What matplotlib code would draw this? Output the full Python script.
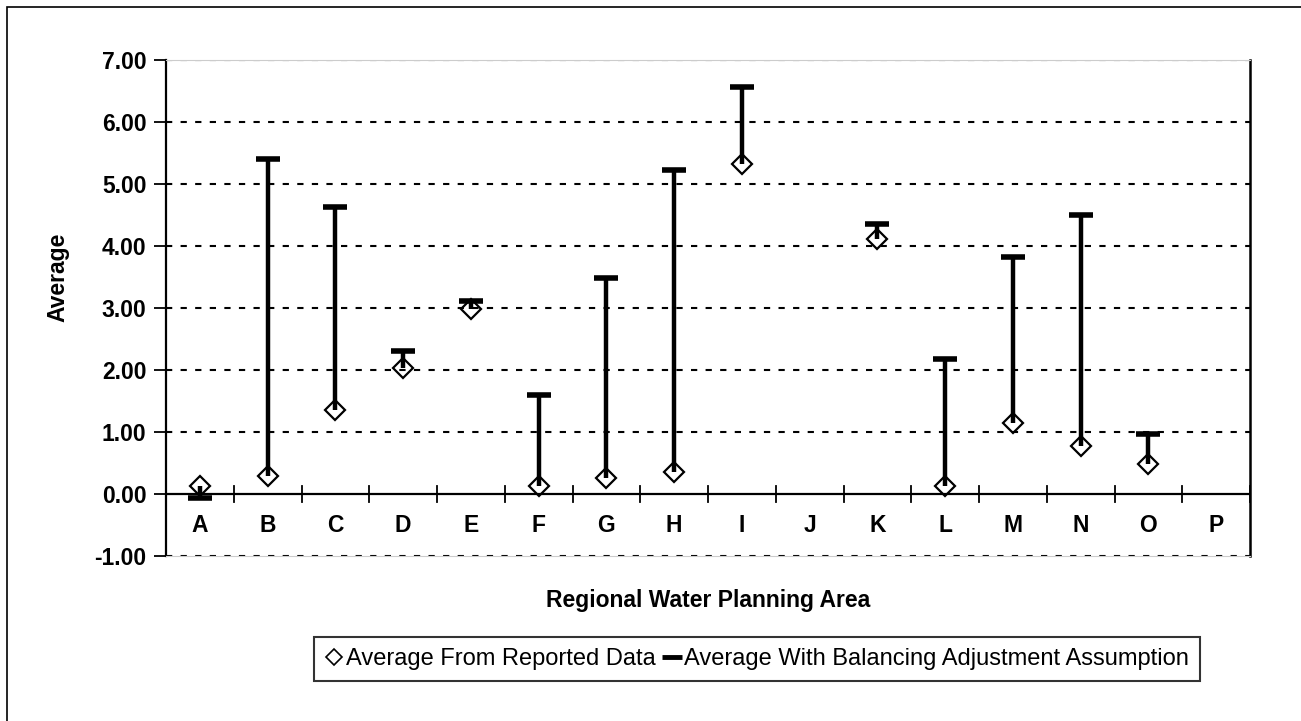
import matplotlib.pyplot as plt
from matplotlib.lines import Line2D
from matplotlib.patches import Rectangle

plt.rcParams['font.family'] = ['Liberation Sans', 'DejaVu Sans']

areas = ["A", "B", "C", "D", "E", "F", "G", "H", "I", "J", "K", "L", "M", "N", "O", "P"]
# None where no value shown (J, P)
reportado = [0.13, 0.29, 1.35, 2.03, 2.98, 0.13, 0.26, 0.35, 5.32, None, 4.11, 0.13, 1.14, 0.77, 0.48, None]
ajustado = [-0.06, 5.40, 4.63, 2.30, 3.12, 1.60, 3.48, 5.23, 6.57, None, 4.35, 2.17, 3.83, 4.50, 0.97, None]
yticks = [-1, 0, 1, 2, 3, 4, 5, 6, 7]

fig = plt.figure(figsize=(13.01, 7.21), dpi=100)
ax = fig.add_axes([166/1301, 1-556/721, (1250-166)/1301, (556-60)/721])

ax.set_xlim(-0.5, len(areas) - 0.5)
ax.set_ylim(-1, 7)

# grilla punteada
for v in yticks:
    if v != 0:
        ax.axhline(v, color="black", lw=1.5, ls=(0, (3, 4)), zorder=1)
ax.axhline(0, color="black", lw=1.6, zorder=2)

# marcas entre categorias sobre el eje 0
for i in range(len(areas) + 1):
    ax.plot([i - 0.5, i - 0.5], [-0.13, 0.13], color="black", lw=1.3, zorder=2)

for i, a in enumerate(areas):
    ax.text(i, -0.5, a, ha="center", va="center", fontsize=16.5, fontweight="bold")

for i in range(len(areas)):
    r = reportado[i]
    aj = ajustado[i]
    if r is None:
        continue
    ax.plot([i, i], [r, aj], color="black", lw=3.2, zorder=3, solid_capstyle="butt")
    ax.plot(i, aj, marker="_", ms=17, mew=4, color="black", zorder=4)
    ax.plot(i, r, marker="D", ms=10.5, mfc="none", mec="black", mew=1.6, zorder=5)

ax.set_xticks([])
ax.set_yticks(yticks)
ax.set_yticklabels(["%.2f" % v for v in yticks], fontsize=16.5, fontweight="bold")
ax.tick_params(axis="y", length=9, width=1.3, pad=5)

ax.spines["left"].set_linewidth(1.6)
ax.spines["right"].set_linewidth(1.8)
ax.spines["top"].set_color("#cccccc")
ax.spines["bottom"].set_color("#cccccc")

fig.text(58/1301, 1-277/721, "Average", rotation=90, ha="center", va="center",
         fontsize=16.5, fontweight="bold")
fig.text(708/1301, 1-601/721, "Regional Water Planning Area", ha="center", va="center",
         fontsize=16.5, fontweight="bold")

handles = [
    Line2D([], [], ls="none", marker="D", ms=8.5, mfc="none", mec="black", mew=1.2),
    Line2D([], [], ls="none", marker="_", ms=14, mew=3.5, color="black"),
]
leg = fig.legend(handles, ["Average From Reported Data", "Average With Balancing Adjustment Assumption"],
                 loc="center", bbox_to_anchor=(757/1301, 1-659/721), ncol=2,
                 frameon=True, fancybox=False, edgecolor="black",
                 handlelength=0.8, handletextpad=0.1, columnspacing=0.3,
                 borderpad=0.45, prop={"family": ["Liberation Sans Narrow", "Liberation Sans"], "size": 17})
leg.get_frame().set_linewidth(1.5)

fig.patches.append(Rectangle((7/1301, -0.01), 1.0, 1 - 7/721 + 0.01, transform=fig.transFigure,
                             fill=False, edgecolor="black", lw=1.2))

fig.savefig("out.png", dpi=100)
